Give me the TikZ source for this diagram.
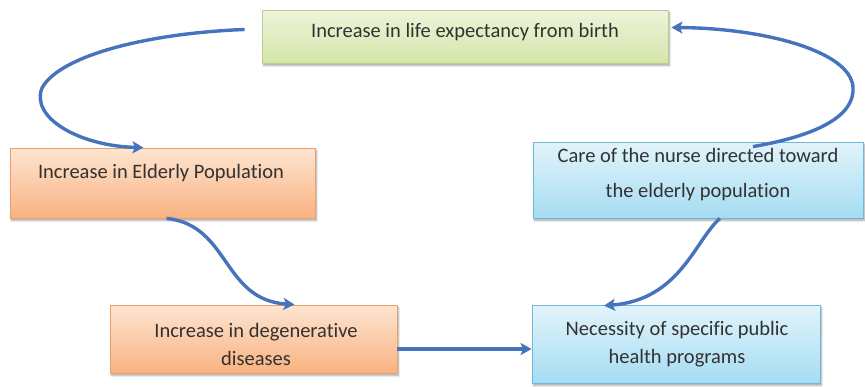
\documentclass[tikz,border=0pt]{standalone}
\usepackage{fontspec}
\setmainfont{Carlito}[Ligatures=NoCommon]
\usetikzlibrary{arrows.meta,shadows.blur}

\definecolor{txt}{RGB}{50,50,50}
\definecolor{arrowblue}{RGB}{70,115,190}
\definecolor{greenTop}{RGB}{238,244,220}
\definecolor{greenBot}{RGB}{212,229,168}
\definecolor{greenLine}{RGB}{185,205,140}
\definecolor{orangeTop}{RGB}{253,229,210}
\definecolor{orangeBot}{RGB}{249,178,128}
\definecolor{orangeLine}{RGB}{236,160,105}
\definecolor{blueTop}{RGB}{226,244,251}
\definecolor{blueBot}{RGB}{165,220,242}
\definecolor{blueLine}{RGB}{110,185,218}

\tikzset{
  x=1pt, y=-1pt,
  box/.style={rectangle, inner sep=0pt, line width=0.8pt,
    blur shadow={shadow xshift=1.5pt, shadow yshift=-2.5pt, shadow blur steps=6, shadow opacity=35}},
  greenbox/.style={box, draw=greenLine, top color=greenTop, bottom color=greenBot},
  orangebox/.style={box, draw=orangeLine, top color=orangeTop, bottom color=orangeBot},
  bluebox/.style={box, draw=blueLine, top color=blueTop, bottom color=blueBot},
  label/.style={text=txt, align=center, inner sep=0pt, font={\fontsize{20.5}{28}\selectfont}},
  flow/.style={draw=arrowblue, line width=3.4pt,
    -{Stealth[length=11pt, width=12pt, inset=2.5pt]}}
}

\begin{document}
\begin{tikzpicture}
\useasboundingbox (0,0) rectangle (865,386);

% boxes
\node[greenbox,  minimum width=406pt, minimum height=53pt] (life)  at (465,36.5) {};
\node[orangebox, minimum width=305pt, minimum height=70pt] (elder) at (162.5,183) {};
\node[bluebox,   minimum width=330pt, minimum height=76pt] (nurse) at (698,180) {};
\node[orangebox, minimum width=287pt, minimum height=68pt] (degen) at (253.5,339) {};
\node[bluebox,   minimum width=288pt, minimum height=78pt] (need)  at (676,344) {};

% texts
\node[label] (tlife)  at (465,32)  {Increase in life expectancy from birth};
\node[label] (telder) at (161,173) {Increase in Elderly Population};
\node[label, font={\fontsize{20.5}{35}\selectfont}] (tnurse) at (698,175)
  {Care of the nurse directed toward\\the elderly population};
\node[label] (tdegen) at (256,344) {Increase in degenerative\\diseases};
\node[label] (tneed)  at (677,344) {Necessity of specific public\\health programs};

% connectors
\draw[flow] ([xshift=-17pt, yshift=7pt]life.west)
  .. controls (150,33) and (60,55) .. (42,88)
  .. controls (30,118) and (80,146) .. ([xshift=-19pt]elder.north);
\draw[flow] ([xshift=4pt]elder.south)
  .. controls (230,225) and (222,300) .. ([xshift=41pt]degen.north);
\draw[flow] ([yshift=-10pt]degen.east) -- ([yshift=-10pt]degen.east -| need.west);
\draw[flow] ([xshift=22pt]nurse.south)
  .. controls (695,240) and (680,300) .. ([xshift=-72pt, yshift=-1pt]need.north);
\draw[flow] ([xshift=55pt, yshift=-5pt]nurse.north)
  .. controls (820,135) and (855,115) .. (853,87)
  .. controls (850,50) and (760,28) .. ([xshift=3pt, yshift=9pt]life.east);
\end{tikzpicture}
\end{document}
